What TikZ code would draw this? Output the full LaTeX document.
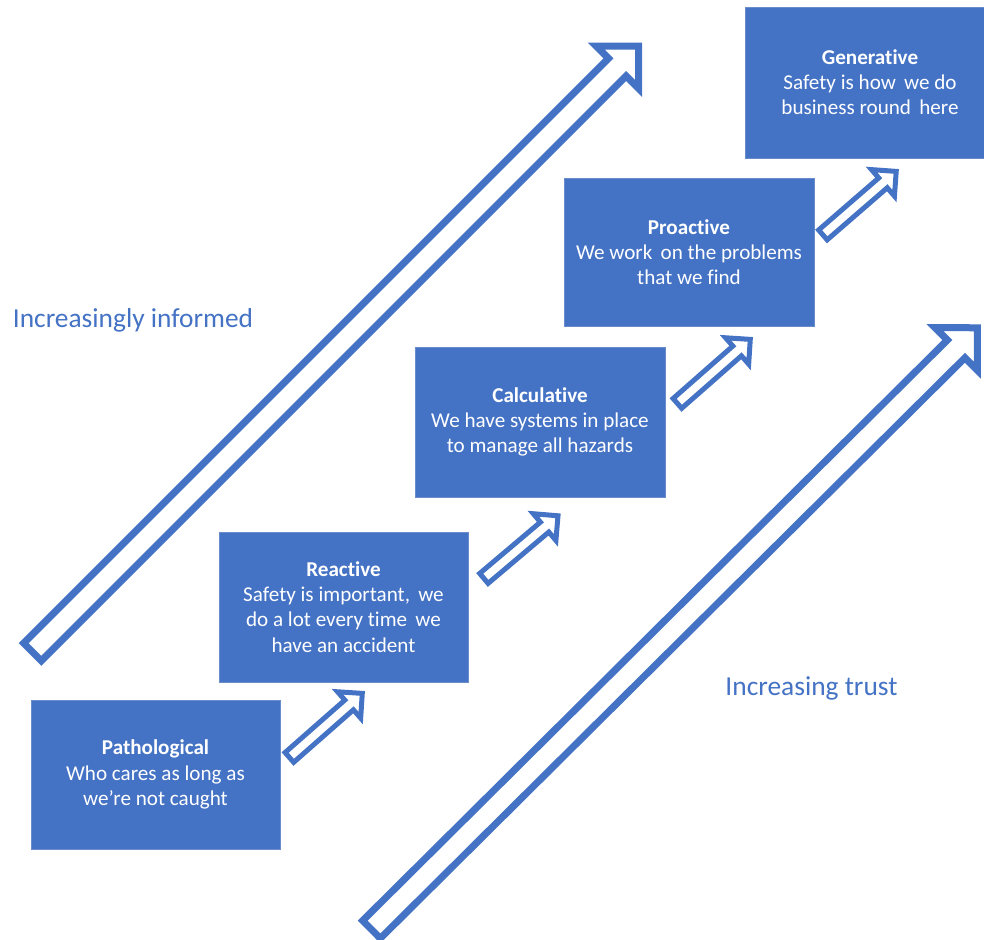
\documentclass[tikz,border=0pt]{standalone}
\usepackage{fontspec}
\setmainfont{Carlito}[RawFeature={-liga}]
\definecolor{officeblue}{HTML}{4472C4}
\definecolor{boxedge}{HTML}{6A8CCB}

% block arrow: style, tail coordinate, angle, length, half shaft width, half head width
\newcommand\blockarrow[6]{%
  \begin{scope}[shift={(#2)}, rotate=#3]
    \draw[#1] (0bp,-#5bp) -- (#4bp-#6bp,-#5bp) -- (#4bp-#6bp,-#6bp) -- (#4bp,0bp)
      -- (#4bp-#6bp,#6bp) -- (#4bp-#6bp,#5bp) -- (0bp,#5bp) -- cycle;
  \end{scope}}

\begin{document}
\begin{tikzpicture}[x=1bp, y=-1bp,
  stagebox/.style={rectangle, fill=officeblue, draw=boxedge, line width=0.8bp,
    minimum width=250bp, minimum height=150bp, inner sep=0pt,
    text=white, align=center, font=\fontsize{21.2}{25.2}\selectfont},
  sidelabel/.style={text=officeblue, anchor=base, inner sep=0pt,
    font=\fontsize{27.5}{32}\selectfont},
  bigarrow/.style={draw=officeblue, fill=white, line width=7bp, line join=miter},
  smallarrow/.style={draw=officeblue, fill=white, line width=5bp, line join=miter}]

\useasboundingbox (0,0) rectangle (984,940);
\clip (0,0) rectangle (984,940);

% long arrows
\coordinate (informedtail) at (32.5,652);
\coordinate (trusttail) at (371.5,929.5);
\blockarrow{bigarrow}{informedtail}{45}{857}{12.5}{30}
\blockarrow{bigarrow}{trusttail}{44.8}{854}{12.5}{30}

% side labels
\node[sidelabel] (informed) at (133,327) {Increasingly informed};
\node[sidelabel] (trust) at (811.5,695) {Increasing trust};

% stages
\node[stagebox, minimum width=249bp, minimum height=149bp] (patho) at (155.5,774.5)
  {\textbf{Pathological}\\Who cares as long as\\we’re not caught};
\node[stagebox, minimum width=249bp] (react) at (343.5,607)
  {\textbf{Reactive}\\Safety is important,\, we\\do a lot every time\, we\\have an accident};
\node[stagebox] (calc) at (540,422)
  {\textbf{Calculative}\\We have systems in place\\to manage all hazards};
\node[stagebox, minimum height=148bp] (proact) at (689,252)
  {\textbf{Proactive}\\We work\, on the problems\\that we find};
\node[stagebox, minimum height=151bp] (gen) at (870,82.5)
  {\textbf{Generative}\\Safety is how\, we do\\business round\, here};

% step arrows between stages
\coordinate (step1) at (289.4,757.4);
\coordinate (step2) at (483.9,578.4);
\coordinate (step3) at (677.4,403.4);
\coordinate (step4) at (822.9,234.9);
\blockarrow{smallarrow}{step1}{41.3}{97}{6.5}{17.5}
\blockarrow{smallarrow}{step2}{40.2}{97}{6.5}{17.5}
\blockarrow{smallarrow}{step3}{41.3}{97}{6.5}{17.5}
\blockarrow{smallarrow}{step4}{40.9}{97}{6.5}{17.5}
\end{tikzpicture}
\end{document}
